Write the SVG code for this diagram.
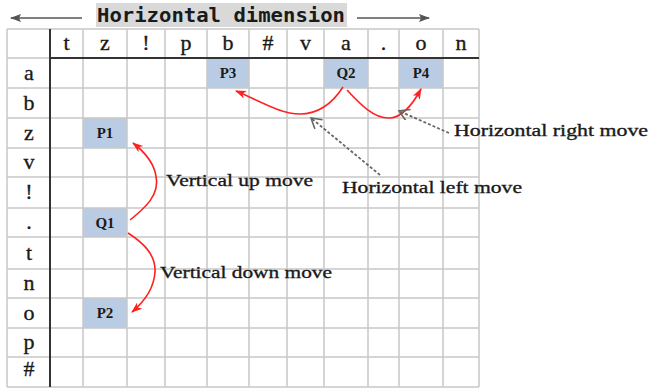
<svg xmlns="http://www.w3.org/2000/svg" width="650" height="389" viewBox="0 0 650 389">
<defs>
<style>
.grid{stroke:#c8c8c8;stroke-width:1.5;fill:none}
.thick{stroke:#333;stroke-width:2}
.hl{fill:#b9cce4}
.hd{font-family:"Liberation Serif",serif;font-size:22px;fill:#1a1a1a;stroke:#1a1a1a;stroke-width:0.35;text-anchor:middle}
.cl{font-family:"Liberation Serif",serif;font-size:15px;font-weight:bold;fill:#1a1a1a;text-anchor:middle}
.lbl{font-family:"Liberation Serif",serif;font-size:17px;fill:#1a1a1a;stroke:#1a1a1a;stroke-width:0.35}
.ttl{font-family:"DejaVu Sans Mono","Liberation Mono",monospace;font-size:19px;font-weight:bold;fill:#1a1a1a}
.red{stroke:#ff2020;stroke-width:1.6;fill:none;marker-end:url(#ra)}
.dash{stroke:#666;stroke-width:1.8;fill:none;stroke-dasharray:3 2;marker-end:url(#oa)}
.ga{stroke:#555;stroke-width:1.5;fill:none;marker-end:url(#ga)}
</style>
<marker id="ra" markerWidth="12" markerHeight="10" refX="10" refY="4" orient="auto" markerUnits="userSpaceOnUse">
<path d="M0,0 L11,4 L0,8 L3,4 z" fill="#ff2020"/>
</marker>
<marker id="oa" markerWidth="14" markerHeight="14" refX="11" refY="6" orient="auto" markerUnits="userSpaceOnUse">
<path d="M1,0 L11,6 L1,12" fill="none" stroke="#666" stroke-width="1.6"/>
</marker>
<marker id="ga" markerWidth="12" markerHeight="10" refX="10" refY="4" orient="auto" markerUnits="userSpaceOnUse">
<path d="M0,0 L11,4 L0,8 L2,4 z" fill="#555"/>
</marker>
</defs>
<rect width="650" height="389" fill="#fff"/>

<g id="title">
<rect x="96" y="3" width="251" height="24" fill="#d9d9d9"/>
<text class="ttl" x="97" y="22" textLength="248" lengthAdjust="spacingAndGlyphs">Horizontal dimension</text>
<line class="ga" x1="82" y1="18" x2="11" y2="18"/>
<line class="ga" x1="357" y1="18" x2="429" y2="18"/>
</g>

<g id="highlights">
<rect class="hl" x="207" y="58" width="42" height="30"/>
<rect class="hl" x="324" y="58" width="44" height="30"/>
<rect class="hl" x="399" y="58" width="44" height="30"/>
<rect class="hl" x="83" y="118" width="44" height="30"/>
<rect class="hl" x="83" y="208" width="44" height="29"/>
<rect class="hl" x="83" y="298" width="44" height="30"/>
</g>

<g id="grid">
<path class="grid" d="M7,29V387M83,29V387M127,29V387M165,29V387M207,29V387M249,29V387M287,29V387M324,29V387M368,29V387M399,29V387M443,29V387M479,29V387"/>
<path class="grid" d="M7,29H479M7,58H50M7,88H479M7,118H479M7,148H479M7,177H479M7,208H479M7,237H479M7,269H479M7,298H479M7,328H479M7,357H479M7,387H479"/>
<line class="thick" x1="50" y1="29" x2="50" y2="387"/>
<line class="thick" x1="50" y1="58" x2="479" y2="58"/>
</g>

<g id="col-headers">
<text class="hd" x="66.5" y="50">t</text>
<text class="hd" x="105" y="50">z</text>
<text class="hd" x="146" y="50">!</text>
<text class="hd" x="186" y="50">p</text>
<text class="hd" x="228" y="50">b</text>
<text class="hd" x="268" y="50">#</text>
<text class="hd" x="305.5" y="50">v</text>
<text class="hd" x="346" y="50">a</text>
<text class="hd" x="383.5" y="50">.</text>
<text class="hd" x="421" y="50">o</text>
<text class="hd" x="461" y="50">n</text>
</g>

<g id="row-headers">
<text class="hd" x="29" y="80">a</text>
<text class="hd" x="29" y="110">b</text>
<text class="hd" x="29" y="140">z</text>
<text class="hd" x="29" y="169">v</text>
<text class="hd" x="29" y="199">!</text>
<text class="hd" x="29" y="229">.</text>
<text class="hd" x="29" y="260">t</text>
<text class="hd" x="29" y="290">n</text>
<text class="hd" x="29" y="320">o</text>
<text class="hd" x="29" y="349">p</text>
<text class="hd" x="29" y="376">#</text>
</g>

<g id="cell-labels">
<text class="cl" x="228" y="78">P3</text>
<text class="cl" x="346" y="78">Q2</text>
<text class="cl" x="421" y="78">P4</text>
<text class="cl" x="105" y="138">P1</text>
<text class="cl" x="105" y="228">Q1</text>
<text class="cl" x="105" y="318">P2</text>
</g>

<g id="connectors">
<path class="red" d="M343,87 C332,104 318,114 300,114 C280,114 258,100 236,91"/>
<path class="red" d="M347,90 C360,104 374,119 390,118 C404,117 414,102 421,89"/>
<path class="red" d="M130,220 C145,208 160,195 156,176 C154,164 146,153 133,143"/>
<path class="red" d="M128,233 C142,242 156,254 155,272 C154,288 145,301 132,312"/>
<line class="dash" x1="449" y1="133" x2="399" y2="111"/>
<line class="dash" x1="380" y1="175" x2="311" y2="118"/>
</g>

<g id="labels">
<text class="lbl" x="166" y="186" textLength="147" lengthAdjust="spacingAndGlyphs">Vertical up move</text>
<text class="lbl" x="160" y="278" textLength="172" lengthAdjust="spacingAndGlyphs">Vertical down move</text>
<text class="lbl" x="454" y="136" textLength="194" lengthAdjust="spacingAndGlyphs">Horizontal right move</text>
<text class="lbl" x="342" y="193" textLength="180" lengthAdjust="spacingAndGlyphs">Horizontal left move</text>
</g>
</svg>
